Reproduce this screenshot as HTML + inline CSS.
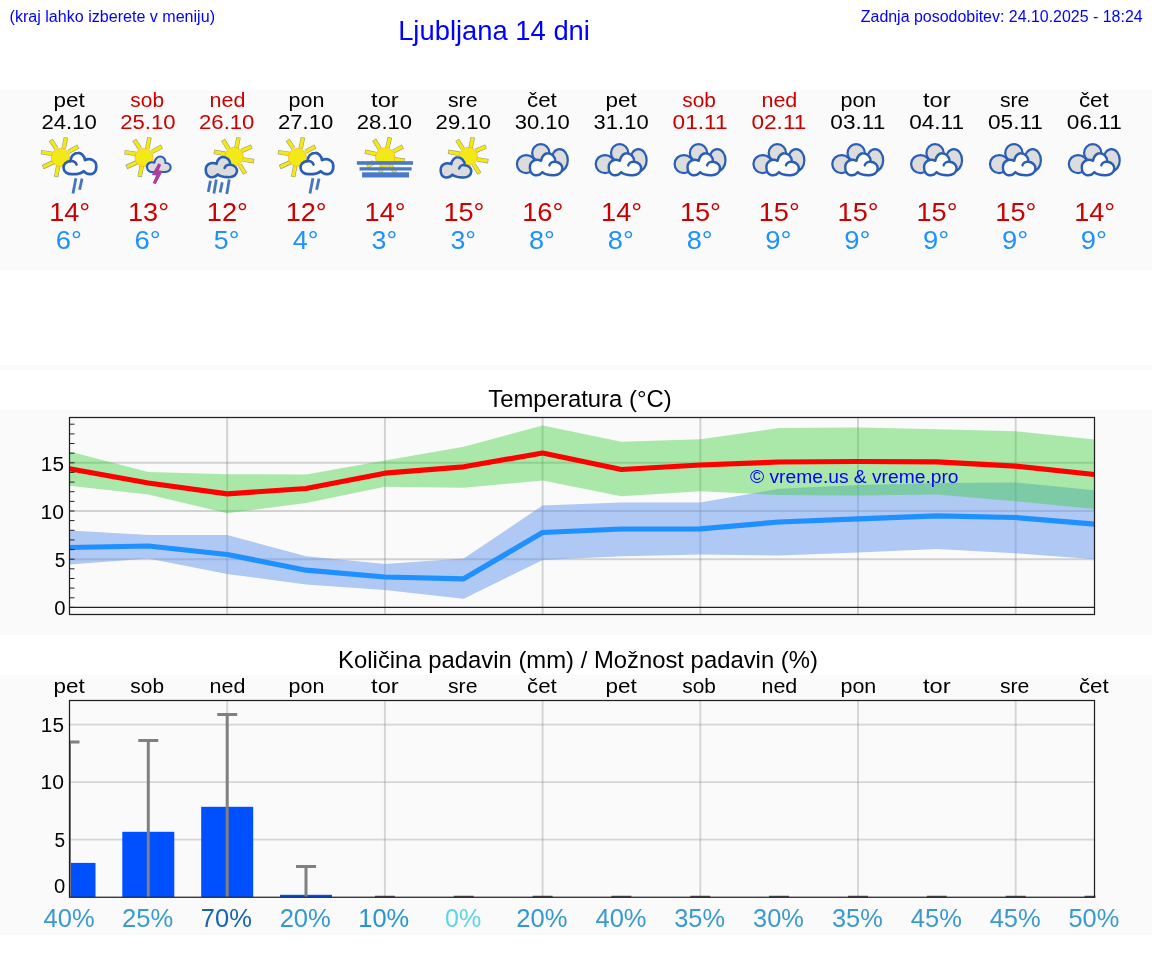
<!DOCTYPE html>
<html lang="sl"><head><meta charset="utf-8"><title>Ljubljana 14 dni</title>
<style>
html,body{margin:0;padding:0;background:#ffffff;}
body{width:1152px;height:975px;overflow:hidden;font-family:"Liberation Sans",sans-serif;}
svg{display:block;position:absolute;left:0;top:0;will-change:transform;}
svg text{font-family:"Liberation Sans",sans-serif;white-space:pre;}
</style></head><body>
<svg width="1152" height="975" viewBox="0 0 1152 975">
<rect x="0" y="90" width="1152" height="180" fill="#fafafa"/>
<rect x="0" y="365" width="1152" height="5" fill="#fafafa"/>
<rect x="0" y="410" width="1152" height="225" fill="#fafafa"/>
<rect x="0" y="675" width="1152" height="260" fill="#fafafa"/>
<text x="9.60" y="22.00" font-size="16.00" fill="#0000ff" textLength="205.39" lengthAdjust="spacingAndGlyphs">(kraj lahko izberete v meniju)</text>
<text x="398.15" y="39.60" font-size="27.40" fill="#0000ff" textLength="191.79" lengthAdjust="spacingAndGlyphs">Ljubljana 14 dni</text>
<text x="860.79" y="22.00" font-size="16.00" fill="#0000ff" textLength="281.87" lengthAdjust="spacingAndGlyphs">Zadnja posodobitev: 24.10.2025 - 18:24</text>
<text x="53.54" y="106.90" font-size="20.14" fill="#000000" textLength="31.24" lengthAdjust="spacingAndGlyphs">pet</text>
<text x="41.40" y="129.00" font-size="20.14" fill="#000000" textLength="55.35" lengthAdjust="spacingAndGlyphs">24.10</text>
<text x="49.18" y="221.30" font-size="26.29" fill="#cc0000" textLength="41.00" lengthAdjust="spacingAndGlyphs">14°</text>
<text x="55.75" y="248.60" font-size="26.29" fill="#1e90ff" textLength="26.15" lengthAdjust="spacingAndGlyphs">6°</text>
<text x="130.38" y="106.90" font-size="20.14" fill="#cc0000" textLength="33.64" lengthAdjust="spacingAndGlyphs">sob</text>
<text x="120.25" y="129.00" font-size="20.14" fill="#cc0000" textLength="55.35" lengthAdjust="spacingAndGlyphs">25.10</text>
<text x="128.03" y="221.30" font-size="26.29" fill="#cc0000" textLength="41.00" lengthAdjust="spacingAndGlyphs">13°</text>
<text x="134.60" y="248.60" font-size="26.29" fill="#1e90ff" textLength="26.15" lengthAdjust="spacingAndGlyphs">6°</text>
<text x="209.56" y="106.90" font-size="20.14" fill="#cc0000" textLength="35.83" lengthAdjust="spacingAndGlyphs">ned</text>
<text x="199.09" y="129.00" font-size="20.14" fill="#cc0000" textLength="55.35" lengthAdjust="spacingAndGlyphs">26.10</text>
<text x="206.88" y="221.30" font-size="26.29" fill="#cc0000" textLength="41.00" lengthAdjust="spacingAndGlyphs">12°</text>
<text x="213.85" y="248.60" font-size="26.29" fill="#1e90ff" textLength="25.62" lengthAdjust="spacingAndGlyphs">5°</text>
<text x="288.52" y="106.90" font-size="20.14" fill="#000000" textLength="35.85" lengthAdjust="spacingAndGlyphs">pon</text>
<text x="277.94" y="129.00" font-size="20.14" fill="#000000" textLength="55.35" lengthAdjust="spacingAndGlyphs">27.10</text>
<text x="285.72" y="221.30" font-size="26.29" fill="#cc0000" textLength="41.00" lengthAdjust="spacingAndGlyphs">12°</text>
<text x="292.81" y="248.60" font-size="26.29" fill="#1e90ff" textLength="25.86" lengthAdjust="spacingAndGlyphs">4°</text>
<text x="371.06" y="106.90" font-size="20.14" fill="#000000" textLength="27.68" lengthAdjust="spacingAndGlyphs">tor</text>
<text x="356.79" y="129.00" font-size="20.14" fill="#000000" textLength="55.35" lengthAdjust="spacingAndGlyphs">28.10</text>
<text x="364.57" y="221.30" font-size="26.29" fill="#cc0000" textLength="41.00" lengthAdjust="spacingAndGlyphs">14°</text>
<text x="371.58" y="248.60" font-size="26.29" fill="#1e90ff" textLength="25.59" lengthAdjust="spacingAndGlyphs">3°</text>
<text x="447.97" y="106.90" font-size="20.14" fill="#000000" textLength="29.47" lengthAdjust="spacingAndGlyphs">sre</text>
<text x="435.63" y="129.00" font-size="20.14" fill="#000000" textLength="55.35" lengthAdjust="spacingAndGlyphs">29.10</text>
<text x="443.41" y="221.30" font-size="26.29" fill="#cc0000" textLength="41.00" lengthAdjust="spacingAndGlyphs">15°</text>
<text x="450.43" y="248.60" font-size="26.29" fill="#1e90ff" textLength="25.59" lengthAdjust="spacingAndGlyphs">3°</text>
<text x="526.99" y="106.90" font-size="20.14" fill="#000000" textLength="29.79" lengthAdjust="spacingAndGlyphs">čet</text>
<text x="514.78" y="129.00" font-size="20.14" fill="#000000" textLength="55.01" lengthAdjust="spacingAndGlyphs">30.10</text>
<text x="522.26" y="221.30" font-size="26.29" fill="#cc0000" textLength="41.00" lengthAdjust="spacingAndGlyphs">16°</text>
<text x="529.02" y="248.60" font-size="26.29" fill="#1e90ff" textLength="25.97" lengthAdjust="spacingAndGlyphs">8°</text>
<text x="605.46" y="106.90" font-size="20.14" fill="#000000" textLength="31.24" lengthAdjust="spacingAndGlyphs">pet</text>
<text x="593.63" y="129.00" font-size="20.14" fill="#000000" textLength="55.01" lengthAdjust="spacingAndGlyphs">31.10</text>
<text x="601.11" y="221.30" font-size="26.29" fill="#cc0000" textLength="41.00" lengthAdjust="spacingAndGlyphs">14°</text>
<text x="607.86" y="248.60" font-size="26.29" fill="#1e90ff" textLength="25.97" lengthAdjust="spacingAndGlyphs">8°</text>
<text x="682.30" y="106.90" font-size="20.14" fill="#cc0000" textLength="33.64" lengthAdjust="spacingAndGlyphs">sob</text>
<text x="672.61" y="129.00" font-size="20.14" fill="#cc0000" textLength="54.94" lengthAdjust="spacingAndGlyphs">01.11</text>
<text x="679.95" y="221.30" font-size="26.29" fill="#cc0000" textLength="41.00" lengthAdjust="spacingAndGlyphs">15°</text>
<text x="686.71" y="248.60" font-size="26.29" fill="#1e90ff" textLength="25.97" lengthAdjust="spacingAndGlyphs">8°</text>
<text x="761.48" y="106.90" font-size="20.14" fill="#cc0000" textLength="35.83" lengthAdjust="spacingAndGlyphs">ned</text>
<text x="751.45" y="129.00" font-size="20.14" fill="#cc0000" textLength="54.94" lengthAdjust="spacingAndGlyphs">02.11</text>
<text x="758.80" y="221.30" font-size="26.29" fill="#cc0000" textLength="41.00" lengthAdjust="spacingAndGlyphs">15°</text>
<text x="765.39" y="248.60" font-size="26.29" fill="#1e90ff" textLength="26.21" lengthAdjust="spacingAndGlyphs">9°</text>
<text x="840.44" y="106.90" font-size="20.14" fill="#000000" textLength="35.85" lengthAdjust="spacingAndGlyphs">pon</text>
<text x="830.30" y="129.00" font-size="20.14" fill="#000000" textLength="54.94" lengthAdjust="spacingAndGlyphs">03.11</text>
<text x="837.64" y="221.30" font-size="26.29" fill="#cc0000" textLength="41.00" lengthAdjust="spacingAndGlyphs">15°</text>
<text x="844.24" y="248.60" font-size="26.29" fill="#1e90ff" textLength="26.21" lengthAdjust="spacingAndGlyphs">9°</text>
<text x="922.98" y="106.90" font-size="20.14" fill="#000000" textLength="27.68" lengthAdjust="spacingAndGlyphs">tor</text>
<text x="909.15" y="129.00" font-size="20.14" fill="#000000" textLength="54.94" lengthAdjust="spacingAndGlyphs">04.11</text>
<text x="916.49" y="221.30" font-size="26.29" fill="#cc0000" textLength="41.00" lengthAdjust="spacingAndGlyphs">15°</text>
<text x="923.08" y="248.60" font-size="26.29" fill="#1e90ff" textLength="26.21" lengthAdjust="spacingAndGlyphs">9°</text>
<text x="999.90" y="106.90" font-size="20.14" fill="#000000" textLength="29.47" lengthAdjust="spacingAndGlyphs">sre</text>
<text x="987.99" y="129.00" font-size="20.14" fill="#000000" textLength="54.94" lengthAdjust="spacingAndGlyphs">05.11</text>
<text x="995.34" y="221.30" font-size="26.29" fill="#cc0000" textLength="41.00" lengthAdjust="spacingAndGlyphs">15°</text>
<text x="1001.93" y="248.60" font-size="26.29" fill="#1e90ff" textLength="26.21" lengthAdjust="spacingAndGlyphs">9°</text>
<text x="1078.91" y="106.90" font-size="20.14" fill="#000000" textLength="29.79" lengthAdjust="spacingAndGlyphs">čet</text>
<text x="1066.84" y="129.00" font-size="20.14" fill="#000000" textLength="54.94" lengthAdjust="spacingAndGlyphs">06.11</text>
<text x="1074.18" y="221.30" font-size="26.29" fill="#cc0000" textLength="41.00" lengthAdjust="spacingAndGlyphs">14°</text>
<text x="1080.78" y="248.60" font-size="26.29" fill="#1e90ff" textLength="26.21" lengthAdjust="spacingAndGlyphs">9°</text>
<g transform="translate(36.00,132) scale(0.06974)"><line x1="292.8" y1="236.6" x2="210.6" y2="113.3" stroke="#a19c6e" stroke-width="64"/><line x1="397.3" y1="238.7" x2="429.6" y2="77.2" stroke="#a19c6e" stroke-width="64"/><line x1="465.7" y1="284.7" x2="607.0" y2="208.2" stroke="#a19c6e" stroke-width="64"/><line x1="235.8" y1="314.1" x2="72.1" y2="288.8" stroke="#a19c6e" stroke-width="64"/><line x1="250.7" y1="432.1" x2="97.7" y2="503.4" stroke="#a19c6e" stroke-width="64"/><line x1="320.7" y1="478.3" x2="288.5" y2="642.9" stroke="#a19c6e" stroke-width="64"/><line x1="292.8" y1="236.6" x2="215.0" y2="120.0" stroke="#f2e916" stroke-width="47"/><line x1="397.3" y1="238.7" x2="428.0" y2="85.0" stroke="#f2e916" stroke-width="47"/><line x1="465.7" y1="284.7" x2="600.0" y2="212.0" stroke="#f2e916" stroke-width="47"/><line x1="235.8" y1="314.1" x2="80.0" y2="290.0" stroke="#f2e916" stroke-width="47"/><line x1="250.7" y1="432.1" x2="105.0" y2="500.0" stroke="#f2e916" stroke-width="47"/><line x1="320.7" y1="478.3" x2="290.0" y2="635.0" stroke="#f2e916" stroke-width="47"/><circle cx="350" cy="365" r="130" fill="#f2e916" stroke="#f7a823" stroke-width="9"/><g transform="translate(258,-56) translate(372,508) scale(-1.07,1.06) translate(-372,-508)" stroke="#2a5db4" stroke-width="36" stroke-linejoin="round" stroke-linecap="round"><path d="M 153 548 C 150 470 230 425 305 462 C 310 400 360 362 395 363 C 450 363 500 410 498 475 C 560 480 595 525 592 565 C 590 620 540 655 470 652 C 410 652 350 640 322 612 C 290 650 240 655 215 650 C 180 640 153 600 153 548 Z" fill="#fdfdfd"/><path d="M 498 475 C 460 470 425 490 418 522" fill="none"/></g><line x1="572" y1="662" x2="530" y2="882" stroke="#4575c2" stroke-width="40"/><line x1="660" y1="668" x2="625" y2="828" stroke="#4575c2" stroke-width="40"/></g>
<g transform="translate(115.00,132) scale(0.06974)"><line x1="357.8" y1="236.6" x2="275.6" y2="113.3" stroke="#a19c6e" stroke-width="64"/><line x1="462.3" y1="238.7" x2="494.6" y2="77.2" stroke="#a19c6e" stroke-width="64"/><line x1="530.7" y1="284.7" x2="672.0" y2="208.2" stroke="#a19c6e" stroke-width="64"/><line x1="300.8" y1="314.1" x2="137.1" y2="288.8" stroke="#a19c6e" stroke-width="64"/><line x1="315.7" y1="432.1" x2="162.7" y2="503.4" stroke="#a19c6e" stroke-width="64"/><line x1="385.7" y1="478.3" x2="353.5" y2="642.9" stroke="#a19c6e" stroke-width="64"/><line x1="357.8" y1="236.6" x2="280.0" y2="120.0" stroke="#f2e916" stroke-width="47"/><line x1="462.3" y1="238.7" x2="493.0" y2="85.0" stroke="#f2e916" stroke-width="47"/><line x1="530.7" y1="284.7" x2="665.0" y2="212.0" stroke="#f2e916" stroke-width="47"/><line x1="300.8" y1="314.1" x2="145.0" y2="290.0" stroke="#f2e916" stroke-width="47"/><line x1="315.7" y1="432.1" x2="170.0" y2="500.0" stroke="#f2e916" stroke-width="47"/><line x1="385.7" y1="478.3" x2="355.0" y2="635.0" stroke="#f2e916" stroke-width="47"/><circle cx="415" cy="365" r="130" fill="#f2e916" stroke="#f7a823" stroke-width="9"/><path d="M 458 505 C 455 450 510 420 565 440 C 570 380 620 350 650 352 C 700 355 730 395 722 445 C 775 440 800 480 798 510 C 795 555 750 578 700 574 L 560 574 C 500 578 460 555 458 505 Z" fill="#dcdcdc" stroke="#2a5db4" stroke-width="30" stroke-linejoin="round"/><polygon points="622,448 662,470 628,548 685,558 582,748 542,730 588,622 528,612" fill="#aa3fa0"/></g>
<g transform="translate(194.00,132) scale(0.06974)"><line x1="492.4" y1="236.9" x2="415.8" y2="113.2" stroke="#a19c6e" stroke-width="64"/><line x1="607.2" y1="228.7" x2="638.6" y2="77.2" stroke="#a19c6e" stroke-width="64"/><line x1="682.1" y1="270.5" x2="827.4" y2="208.9" stroke="#a19c6e" stroke-width="64"/><line x1="701.2" y1="392.7" x2="860.9" y2="419.3" stroke="#a19c6e" stroke-width="64"/><line x1="652.5" y1="468.2" x2="734.3" y2="596.7" stroke="#a19c6e" stroke-width="64"/><line x1="448.8" y1="312.4" x2="285.1" y2="283.6" stroke="#a19c6e" stroke-width="64"/><line x1="492.4" y1="236.9" x2="420.0" y2="120.0" stroke="#f2e916" stroke-width="47"/><line x1="607.2" y1="228.7" x2="637.0" y2="85.0" stroke="#f2e916" stroke-width="47"/><line x1="682.1" y1="270.5" x2="820.0" y2="212.0" stroke="#f2e916" stroke-width="47"/><line x1="701.2" y1="392.7" x2="853.0" y2="418.0" stroke="#f2e916" stroke-width="47"/><line x1="652.5" y1="468.2" x2="730.0" y2="590.0" stroke="#f2e916" stroke-width="47"/><line x1="448.8" y1="312.4" x2="293.0" y2="285.0" stroke="#f2e916" stroke-width="47"/><circle cx="575" cy="350" r="132" fill="#f2e916" stroke="#f7a823" stroke-width="9"/><g transform="translate(20,-5) translate(372,508) scale(1.02,1.0) translate(-372,-508)" stroke="#2a5db4" stroke-width="36" stroke-linejoin="round" stroke-linecap="round"><path d="M 153 548 C 150 470 230 425 305 462 C 310 400 360 362 395 363 C 450 363 500 410 498 475 C 560 480 595 525 592 565 C 590 620 540 655 470 652 C 410 652 350 640 322 612 C 290 650 240 655 215 650 C 180 640 153 600 153 548 Z" fill="#dcdcdc"/><path d="M 498 475 C 460 470 425 490 418 522" fill="none"/></g><line x1="235" y1="700" x2="205" y2="862" stroke="#4575c2" stroke-width="40"/><line x1="320" y1="680" x2="285" y2="882" stroke="#4575c2" stroke-width="40"/><line x1="405" y1="720" x2="375" y2="868" stroke="#4575c2" stroke-width="40"/><line x1="505" y1="680" x2="470" y2="888" stroke="#4575c2" stroke-width="40"/></g>
<g transform="translate(273.00,132) scale(0.06974)"><line x1="292.8" y1="236.6" x2="210.6" y2="113.3" stroke="#a19c6e" stroke-width="64"/><line x1="397.3" y1="238.7" x2="429.6" y2="77.2" stroke="#a19c6e" stroke-width="64"/><line x1="465.7" y1="284.7" x2="607.0" y2="208.2" stroke="#a19c6e" stroke-width="64"/><line x1="235.8" y1="314.1" x2="72.1" y2="288.8" stroke="#a19c6e" stroke-width="64"/><line x1="250.7" y1="432.1" x2="97.7" y2="503.4" stroke="#a19c6e" stroke-width="64"/><line x1="320.7" y1="478.3" x2="288.5" y2="642.9" stroke="#a19c6e" stroke-width="64"/><line x1="292.8" y1="236.6" x2="215.0" y2="120.0" stroke="#f2e916" stroke-width="47"/><line x1="397.3" y1="238.7" x2="428.0" y2="85.0" stroke="#f2e916" stroke-width="47"/><line x1="465.7" y1="284.7" x2="600.0" y2="212.0" stroke="#f2e916" stroke-width="47"/><line x1="235.8" y1="314.1" x2="80.0" y2="290.0" stroke="#f2e916" stroke-width="47"/><line x1="250.7" y1="432.1" x2="105.0" y2="500.0" stroke="#f2e916" stroke-width="47"/><line x1="320.7" y1="478.3" x2="290.0" y2="635.0" stroke="#f2e916" stroke-width="47"/><circle cx="350" cy="365" r="130" fill="#f2e916" stroke="#f7a823" stroke-width="9"/><g transform="translate(258,-56) translate(372,508) scale(-1.07,1.06) translate(-372,-508)" stroke="#2a5db4" stroke-width="36" stroke-linejoin="round" stroke-linecap="round"><path d="M 153 548 C 150 470 230 425 305 462 C 310 400 360 362 395 363 C 450 363 500 410 498 475 C 560 480 595 525 592 565 C 590 620 540 655 470 652 C 410 652 350 640 322 612 C 290 650 240 655 215 650 C 180 640 153 600 153 548 Z" fill="#fdfdfd"/><path d="M 498 475 C 460 470 425 490 418 522" fill="none"/></g><line x1="572" y1="662" x2="530" y2="882" stroke="#4575c2" stroke-width="40"/><line x1="660" y1="668" x2="625" y2="828" stroke="#4575c2" stroke-width="40"/></g>
<g transform="translate(352.00,132) scale(0.06974)"><line x1="397.3" y1="242.0" x2="317.8" y2="111.2" stroke="#a19c6e" stroke-width="64"/><line x1="506.6" y1="225.6" x2="544.0" y2="77.2" stroke="#a19c6e" stroke-width="64"/><line x1="592.7" y1="281.6" x2="729.0" y2="208.2" stroke="#a19c6e" stroke-width="64"/><line x1="611.2" y1="390.9" x2="757.9" y2="413.2" stroke="#a19c6e" stroke-width="64"/><line x1="348.6" y1="318.1" x2="187.2" y2="281.2" stroke="#a19c6e" stroke-width="64"/><line x1="311.6" y1="432.2" x2="218.3" y2="494.4" stroke="#a19c6e" stroke-width="64"/><line x1="433.6" y1="486.5" x2="407.9" y2="582.7" stroke="#a19c6e" stroke-width="64"/><line x1="552.4" y1="478.2" x2="619.3" y2="581.7" stroke="#a19c6e" stroke-width="64"/><line x1="397.3" y1="242.0" x2="322.0" y2="118.0" stroke="#f2e916" stroke-width="47"/><line x1="506.6" y1="225.6" x2="542.0" y2="85.0" stroke="#f2e916" stroke-width="47"/><line x1="592.7" y1="281.6" x2="722.0" y2="212.0" stroke="#f2e916" stroke-width="47"/><line x1="611.2" y1="390.9" x2="750.0" y2="412.0" stroke="#f2e916" stroke-width="47"/><line x1="348.6" y1="318.1" x2="195.0" y2="283.0" stroke="#f2e916" stroke-width="47"/><line x1="311.6" y1="432.2" x2="225.0" y2="490.0" stroke="#f2e916" stroke-width="47"/><line x1="433.6" y1="486.5" x2="410.0" y2="575.0" stroke="#f2e916" stroke-width="47"/><line x1="552.4" y1="478.2" x2="615.0" y2="575.0" stroke="#f2e916" stroke-width="47"/><circle cx="475" cy="365" r="140" fill="#f2e916" stroke="#f7a823" stroke-width="9"/><rect x="70" y="418" width="805" height="52" fill="#4a7ac7"/><rect x="108" y="505" width="747" height="47" fill="#4a7ac7"/><rect x="145" y="578" width="673" height="74" fill="#4a7ac7"/></g>
<g transform="translate(430.00,132) scale(0.06974)"><line x1="467.4" y1="236.9" x2="390.8" y2="113.2" stroke="#a19c6e" stroke-width="64"/><line x1="582.2" y1="228.7" x2="613.6" y2="77.2" stroke="#a19c6e" stroke-width="64"/><line x1="657.1" y1="270.5" x2="802.4" y2="208.9" stroke="#a19c6e" stroke-width="64"/><line x1="676.2" y1="392.7" x2="835.9" y2="419.3" stroke="#a19c6e" stroke-width="64"/><line x1="627.5" y1="468.2" x2="709.3" y2="596.7" stroke="#a19c6e" stroke-width="64"/><line x1="423.8" y1="312.4" x2="260.1" y2="283.6" stroke="#a19c6e" stroke-width="64"/><line x1="467.4" y1="236.9" x2="395.0" y2="120.0" stroke="#f2e916" stroke-width="47"/><line x1="582.2" y1="228.7" x2="612.0" y2="85.0" stroke="#f2e916" stroke-width="47"/><line x1="657.1" y1="270.5" x2="795.0" y2="212.0" stroke="#f2e916" stroke-width="47"/><line x1="676.2" y1="392.7" x2="828.0" y2="418.0" stroke="#f2e916" stroke-width="47"/><line x1="627.5" y1="468.2" x2="705.0" y2="590.0" stroke="#f2e916" stroke-width="47"/><line x1="423.8" y1="312.4" x2="268.0" y2="285.0" stroke="#f2e916" stroke-width="47"/><circle cx="550" cy="350" r="132" fill="#f2e916" stroke="#f7a823" stroke-width="9"/><g transform="translate(0,0) translate(372,508) scale(1.0,1.0) translate(-372,-508)" stroke="#2a5db4" stroke-width="36" stroke-linejoin="round" stroke-linecap="round"><path d="M 153 548 C 150 470 230 425 305 462 C 310 400 360 362 395 363 C 450 363 500 410 498 475 C 560 480 595 525 592 565 C 590 620 540 655 470 652 C 410 652 350 640 322 612 C 290 650 240 655 215 650 C 180 640 153 600 153 548 Z" fill="#dcdcdc"/><path d="M 498 475 C 460 470 425 490 418 522" fill="none"/></g></g>
<g transform="translate(509.08,132) scale(0.06974)"><ellipse cx="246" cy="460" rx="134" ry="130" fill="#dcdcdc" stroke="#2a5db4" stroke-width="32"/><ellipse cx="455" cy="300" rx="124" ry="126" fill="#dcdcdc" stroke="#2a5db4" stroke-width="32"/><ellipse cx="724" cy="404" rx="118" ry="158" fill="#dcdcdc" stroke="#2a5db4" stroke-width="32"/><g transform="translate(158,-45) translate(372,508) scale(1.06,1.09) translate(-372,-508)" stroke="#2a5db4" stroke-width="33" stroke-linejoin="round" stroke-linecap="round"><path d="M 153 548 C 150 470 230 425 305 462 C 310 400 360 362 395 363 C 450 363 500 410 498 475 C 560 480 595 525 592 565 C 590 620 540 655 470 652 C 410 652 350 640 322 612 C 290 650 240 655 215 650 C 180 640 153 600 153 548 Z" fill="#fdfdfd"/><path d="M 498 475 C 460 470 425 490 418 522" fill="none"/></g></g>
<g transform="translate(587.92,132) scale(0.06974)"><ellipse cx="246" cy="460" rx="134" ry="130" fill="#dcdcdc" stroke="#2a5db4" stroke-width="32"/><ellipse cx="455" cy="300" rx="124" ry="126" fill="#dcdcdc" stroke="#2a5db4" stroke-width="32"/><ellipse cx="724" cy="404" rx="118" ry="158" fill="#dcdcdc" stroke="#2a5db4" stroke-width="32"/><g transform="translate(158,-45) translate(372,508) scale(1.06,1.09) translate(-372,-508)" stroke="#2a5db4" stroke-width="33" stroke-linejoin="round" stroke-linecap="round"><path d="M 153 548 C 150 470 230 425 305 462 C 310 400 360 362 395 363 C 450 363 500 410 498 475 C 560 480 595 525 592 565 C 590 620 540 655 470 652 C 410 652 350 640 322 612 C 290 650 240 655 215 650 C 180 640 153 600 153 548 Z" fill="#fdfdfd"/><path d="M 498 475 C 460 470 425 490 418 522" fill="none"/></g></g>
<g transform="translate(666.77,132) scale(0.06974)"><ellipse cx="246" cy="460" rx="134" ry="130" fill="#dcdcdc" stroke="#2a5db4" stroke-width="32"/><ellipse cx="455" cy="300" rx="124" ry="126" fill="#dcdcdc" stroke="#2a5db4" stroke-width="32"/><ellipse cx="724" cy="404" rx="118" ry="158" fill="#dcdcdc" stroke="#2a5db4" stroke-width="32"/><g transform="translate(158,-45) translate(372,508) scale(1.06,1.09) translate(-372,-508)" stroke="#2a5db4" stroke-width="33" stroke-linejoin="round" stroke-linecap="round"><path d="M 153 548 C 150 470 230 425 305 462 C 310 400 360 362 395 363 C 450 363 500 410 498 475 C 560 480 595 525 592 565 C 590 620 540 655 470 652 C 410 652 350 640 322 612 C 290 650 240 655 215 650 C 180 640 153 600 153 548 Z" fill="#fdfdfd"/><path d="M 498 475 C 460 470 425 490 418 522" fill="none"/></g></g>
<g transform="translate(745.62,132) scale(0.06974)"><ellipse cx="246" cy="460" rx="134" ry="130" fill="#dcdcdc" stroke="#2a5db4" stroke-width="32"/><ellipse cx="455" cy="300" rx="124" ry="126" fill="#dcdcdc" stroke="#2a5db4" stroke-width="32"/><ellipse cx="724" cy="404" rx="118" ry="158" fill="#dcdcdc" stroke="#2a5db4" stroke-width="32"/><g transform="translate(158,-45) translate(372,508) scale(1.06,1.09) translate(-372,-508)" stroke="#2a5db4" stroke-width="33" stroke-linejoin="round" stroke-linecap="round"><path d="M 153 548 C 150 470 230 425 305 462 C 310 400 360 362 395 363 C 450 363 500 410 498 475 C 560 480 595 525 592 565 C 590 620 540 655 470 652 C 410 652 350 640 322 612 C 290 650 240 655 215 650 C 180 640 153 600 153 548 Z" fill="#fdfdfd"/><path d="M 498 475 C 460 470 425 490 418 522" fill="none"/></g></g>
<g transform="translate(824.46,132) scale(0.06974)"><ellipse cx="246" cy="460" rx="134" ry="130" fill="#dcdcdc" stroke="#2a5db4" stroke-width="32"/><ellipse cx="455" cy="300" rx="124" ry="126" fill="#dcdcdc" stroke="#2a5db4" stroke-width="32"/><ellipse cx="724" cy="404" rx="118" ry="158" fill="#dcdcdc" stroke="#2a5db4" stroke-width="32"/><g transform="translate(158,-45) translate(372,508) scale(1.06,1.09) translate(-372,-508)" stroke="#2a5db4" stroke-width="33" stroke-linejoin="round" stroke-linecap="round"><path d="M 153 548 C 150 470 230 425 305 462 C 310 400 360 362 395 363 C 450 363 500 410 498 475 C 560 480 595 525 592 565 C 590 620 540 655 470 652 C 410 652 350 640 322 612 C 290 650 240 655 215 650 C 180 640 153 600 153 548 Z" fill="#fdfdfd"/><path d="M 498 475 C 460 470 425 490 418 522" fill="none"/></g></g>
<g transform="translate(903.31,132) scale(0.06974)"><ellipse cx="246" cy="460" rx="134" ry="130" fill="#dcdcdc" stroke="#2a5db4" stroke-width="32"/><ellipse cx="455" cy="300" rx="124" ry="126" fill="#dcdcdc" stroke="#2a5db4" stroke-width="32"/><ellipse cx="724" cy="404" rx="118" ry="158" fill="#dcdcdc" stroke="#2a5db4" stroke-width="32"/><g transform="translate(158,-45) translate(372,508) scale(1.06,1.09) translate(-372,-508)" stroke="#2a5db4" stroke-width="33" stroke-linejoin="round" stroke-linecap="round"><path d="M 153 548 C 150 470 230 425 305 462 C 310 400 360 362 395 363 C 450 363 500 410 498 475 C 560 480 595 525 592 565 C 590 620 540 655 470 652 C 410 652 350 640 322 612 C 290 650 240 655 215 650 C 180 640 153 600 153 548 Z" fill="#fdfdfd"/><path d="M 498 475 C 460 470 425 490 418 522" fill="none"/></g></g>
<g transform="translate(982.15,132) scale(0.06974)"><ellipse cx="246" cy="460" rx="134" ry="130" fill="#dcdcdc" stroke="#2a5db4" stroke-width="32"/><ellipse cx="455" cy="300" rx="124" ry="126" fill="#dcdcdc" stroke="#2a5db4" stroke-width="32"/><ellipse cx="724" cy="404" rx="118" ry="158" fill="#dcdcdc" stroke="#2a5db4" stroke-width="32"/><g transform="translate(158,-45) translate(372,508) scale(1.06,1.09) translate(-372,-508)" stroke="#2a5db4" stroke-width="33" stroke-linejoin="round" stroke-linecap="round"><path d="M 153 548 C 150 470 230 425 305 462 C 310 400 360 362 395 363 C 450 363 500 410 498 475 C 560 480 595 525 592 565 C 590 620 540 655 470 652 C 410 652 350 640 322 612 C 290 650 240 655 215 650 C 180 640 153 600 153 548 Z" fill="#fdfdfd"/><path d="M 498 475 C 460 470 425 490 418 522" fill="none"/></g></g>
<g transform="translate(1061.00,132) scale(0.06974)"><ellipse cx="246" cy="460" rx="134" ry="130" fill="#dcdcdc" stroke="#2a5db4" stroke-width="32"/><ellipse cx="455" cy="300" rx="124" ry="126" fill="#dcdcdc" stroke="#2a5db4" stroke-width="32"/><ellipse cx="724" cy="404" rx="118" ry="158" fill="#dcdcdc" stroke="#2a5db4" stroke-width="32"/><g transform="translate(158,-45) translate(372,508) scale(1.06,1.09) translate(-372,-508)" stroke="#2a5db4" stroke-width="33" stroke-linejoin="round" stroke-linecap="round"><path d="M 153 548 C 150 470 230 425 305 462 C 310 400 360 362 395 363 C 450 363 500 410 498 475 C 560 480 595 525 592 565 C 590 620 540 655 470 652 C 410 652 350 640 322 612 C 290 650 240 655 215 650 C 180 640 153 600 153 548 Z" fill="#fdfdfd"/><path d="M 498 475 C 460 470 425 490 418 522" fill="none"/></g></g>
<clipPath id="c1"><rect x="69.5" y="417.5" width="1025.0" height="197.0"/></clipPath>
<g clip-path="url(#c1)">
<line x1="69.5" x2="1094.5" y1="462.8" y2="462.8" stroke="rgba(128,128,128,0.33)" stroke-width="1.9"/>
<line x1="69.5" x2="1094.5" y1="511.0" y2="511.0" stroke="rgba(128,128,128,0.33)" stroke-width="1.9"/>
<line x1="69.5" x2="1094.5" y1="559.2" y2="559.2" stroke="rgba(128,128,128,0.33)" stroke-width="1.9"/>
<line x1="227.2" x2="227.2" y1="417.5" y2="614.5" stroke="rgba(128,128,128,0.33)" stroke-width="1.9"/>
<line x1="384.9" x2="384.9" y1="417.5" y2="614.5" stroke="rgba(128,128,128,0.33)" stroke-width="1.9"/>
<line x1="542.6" x2="542.6" y1="417.5" y2="614.5" stroke="rgba(128,128,128,0.33)" stroke-width="1.9"/>
<line x1="700.3" x2="700.3" y1="417.5" y2="614.5" stroke="rgba(128,128,128,0.33)" stroke-width="1.9"/>
<line x1="858.0" x2="858.0" y1="417.5" y2="614.5" stroke="rgba(128,128,128,0.33)" stroke-width="1.9"/>
<line x1="1015.7" x2="1015.7" y1="417.5" y2="614.5" stroke="rgba(128,128,128,0.33)" stroke-width="1.9"/>
<polygon points="69.5,530.5 148.3,535.0 227.2,535.0 306.0,556.2 384.9,564.0 463.7,558.5 542.6,505.5 621.4,502.5 700.3,502.5 779.1,488.8 858.0,485.0 936.8,483.0 1015.7,482.5 1094.5,490.2 1094.5,559.2 1015.7,553.2 936.8,549.0 858.0,552.5 779.1,555.5 700.3,554.5 621.4,556.2 542.6,560.0 463.7,598.8 384.9,590.0 306.0,584.5 227.2,574.0 148.3,558.5 69.5,564.5" fill="rgb(100,149,237)" fill-opacity="0.5"/>
<polygon points="69.5,451.5 148.3,472.0 227.2,474.2 306.0,474.5 384.9,460.5 463.7,446.8 542.6,425.5 621.4,441.8 700.3,439.2 779.1,428.0 858.0,427.5 936.8,429.2 1015.7,431.2 1094.5,439.4 1094.5,508.9 1015.7,501.2 936.8,494.5 858.0,495.5 779.1,495.0 700.3,491.2 621.4,496.2 542.6,480.5 463.7,487.8 384.9,486.8 306.0,503.0 227.2,513.2 148.3,494.5 69.5,485.8" fill="rgb(50,205,50)" fill-opacity="0.4"/>
<line x1="69.5" x2="1094.5" y1="607.4" y2="607.4" stroke="#222" stroke-width="1.3"/>
<polyline points="69.5,547.5 148.3,546.0 227.2,554.5 306.0,570.2 384.9,577.0 463.7,578.8 542.6,532.5 621.4,529.0 700.3,528.8 779.1,522.0 858.0,518.8 936.8,515.8 1015.7,517.5 1094.5,524.2" fill="none" stroke="#1e90ff" stroke-width="5.2" stroke-linejoin="round"/>
<polyline points="69.5,468.8 148.3,483.0 227.2,493.8 306.0,488.5 384.9,473.2 463.7,466.8 542.6,453.0 621.4,469.5 700.3,465.0 779.1,462.0 858.0,461.5 936.8,461.8 1015.7,466.2 1094.5,474.5" fill="none" stroke="#ff0000" stroke-width="5.2" stroke-linejoin="round"/>
</g>
<line x1="69.5" x2="74.5" y1="607.4" y2="607.4" stroke="#222" stroke-width="1"/>
<line x1="69.5" x2="74.5" y1="597.8" y2="597.8" stroke="#222" stroke-width="1"/>
<line x1="69.5" x2="74.5" y1="588.1" y2="588.1" stroke="#222" stroke-width="1"/>
<line x1="69.5" x2="74.5" y1="578.5" y2="578.5" stroke="#222" stroke-width="1"/>
<line x1="69.5" x2="74.5" y1="568.8" y2="568.8" stroke="#222" stroke-width="1"/>
<line x1="69.5" x2="74.5" y1="559.2" y2="559.2" stroke="#222" stroke-width="1"/>
<line x1="69.5" x2="74.5" y1="549.6" y2="549.6" stroke="#222" stroke-width="1"/>
<line x1="69.5" x2="74.5" y1="539.9" y2="539.9" stroke="#222" stroke-width="1"/>
<line x1="69.5" x2="74.5" y1="530.3" y2="530.3" stroke="#222" stroke-width="1"/>
<line x1="69.5" x2="74.5" y1="520.6" y2="520.6" stroke="#222" stroke-width="1"/>
<line x1="69.5" x2="74.5" y1="511.0" y2="511.0" stroke="#222" stroke-width="1"/>
<line x1="69.5" x2="74.5" y1="501.4" y2="501.4" stroke="#222" stroke-width="1"/>
<line x1="69.5" x2="74.5" y1="491.7" y2="491.7" stroke="#222" stroke-width="1"/>
<line x1="69.5" x2="74.5" y1="482.1" y2="482.1" stroke="#222" stroke-width="1"/>
<line x1="69.5" x2="74.5" y1="472.4" y2="472.4" stroke="#222" stroke-width="1"/>
<line x1="69.5" x2="74.5" y1="462.8" y2="462.8" stroke="#222" stroke-width="1"/>
<line x1="69.5" x2="74.5" y1="453.2" y2="453.2" stroke="#222" stroke-width="1"/>
<line x1="69.5" x2="74.5" y1="443.5" y2="443.5" stroke="#222" stroke-width="1"/>
<line x1="69.5" x2="74.5" y1="433.9" y2="433.9" stroke="#222" stroke-width="1"/>
<line x1="69.5" x2="74.5" y1="424.2" y2="424.2" stroke="#222" stroke-width="1"/>
<rect x="69.5" y="417.5" width="1025.0" height="197.0" fill="none" stroke="#202020" stroke-width="1.25"/>
<text x="40.87" y="470.70" font-size="20.46" fill="#000" textLength="23.10" lengthAdjust="spacingAndGlyphs">15</text>
<text x="40.45" y="518.90" font-size="20.46" fill="#000" textLength="23.48" lengthAdjust="spacingAndGlyphs">10</text>
<text x="54.78" y="567.10" font-size="20.46" fill="#000" textLength="10.62" lengthAdjust="spacingAndGlyphs">5</text>
<text x="54.13" y="615.30" font-size="20.46" fill="#000" textLength="11.26" lengthAdjust="spacingAndGlyphs">0</text>
<text x="488.27" y="407.40" font-size="23.70" fill="#000" textLength="183.39" lengthAdjust="spacingAndGlyphs">Temperatura (°C)</text>
<text x="750.01" y="483.40" font-size="18.90" fill="#0000ff" textLength="208.50" lengthAdjust="spacingAndGlyphs">© vreme.us &amp; vreme.pro</text>
<clipPath id="c2"><rect x="69.5" y="698.5" width="1026.0" height="199.8"/></clipPath>
<g clip-path="url(#c2)">
<line x1="69.5" x2="1094.5" y1="839.6" y2="839.6" stroke="rgba(128,128,128,0.30)" stroke-width="1.9"/>
<line x1="69.5" x2="1094.5" y1="782.1" y2="782.1" stroke="rgba(128,128,128,0.30)" stroke-width="1.9"/>
<line x1="69.5" x2="1094.5" y1="724.6" y2="724.6" stroke="rgba(128,128,128,0.30)" stroke-width="1.9"/>
<line x1="227.2" x2="227.2" y1="700.5" y2="897.25" stroke="rgba(128,128,128,0.30)" stroke-width="1.9"/>
<line x1="384.9" x2="384.9" y1="700.5" y2="897.25" stroke="rgba(128,128,128,0.30)" stroke-width="1.9"/>
<line x1="542.6" x2="542.6" y1="700.5" y2="897.25" stroke="rgba(128,128,128,0.30)" stroke-width="1.9"/>
<line x1="700.3" x2="700.3" y1="700.5" y2="897.25" stroke="rgba(128,128,128,0.30)" stroke-width="1.9"/>
<line x1="858.0" x2="858.0" y1="700.5" y2="897.25" stroke="rgba(128,128,128,0.30)" stroke-width="1.9"/>
<line x1="1015.7" x2="1015.7" y1="700.5" y2="897.25" stroke="rgba(128,128,128,0.30)" stroke-width="1.9"/>
<rect x="43.5" y="862.9" width="52" height="34.2" fill="#0050ff"/>
<rect x="122.3" y="831.8" width="52" height="65.3" fill="#0050ff"/>
<rect x="201.2" y="806.8" width="52" height="90.3" fill="#0050ff"/>
<rect x="280.0" y="894.8" width="52" height="2.3" fill="#0050ff"/>
<line x1="69.5" x2="69.5" y1="741.9" y2="897.1" stroke="#808080" stroke-width="3"/>
<line x1="59.5" x2="79.5" y1="741.9" y2="741.9" stroke="#808080" stroke-width="3"/>
<line x1="148.3" x2="148.3" y1="740.4" y2="897.1" stroke="#808080" stroke-width="3"/>
<line x1="138.3" x2="158.3" y1="740.4" y2="740.4" stroke="#808080" stroke-width="3"/>
<line x1="227.2" x2="227.2" y1="714.4" y2="897.1" stroke="#808080" stroke-width="3"/>
<line x1="217.2" x2="237.2" y1="714.4" y2="714.4" stroke="#808080" stroke-width="3"/>
<line x1="306.0" x2="306.0" y1="866.4" y2="897.1" stroke="#808080" stroke-width="3"/>
<line x1="296.0" x2="316.0" y1="866.4" y2="866.4" stroke="#808080" stroke-width="3"/>
<line x1="374.9" x2="394.9" y1="896.6" y2="896.6" stroke="#555" stroke-width="1.6"/>
<line x1="453.7" x2="473.7" y1="896.6" y2="896.6" stroke="#555" stroke-width="1.6"/>
<line x1="532.6" x2="552.6" y1="896.6" y2="896.6" stroke="#555" stroke-width="1.6"/>
<line x1="611.4" x2="631.4" y1="896.6" y2="896.6" stroke="#555" stroke-width="1.6"/>
<line x1="690.3" x2="710.3" y1="896.6" y2="896.6" stroke="#555" stroke-width="1.6"/>
<line x1="769.1" x2="789.1" y1="896.6" y2="896.6" stroke="#555" stroke-width="1.6"/>
<line x1="848.0" x2="868.0" y1="896.6" y2="896.6" stroke="#555" stroke-width="1.6"/>
<line x1="926.8" x2="946.8" y1="896.6" y2="896.6" stroke="#555" stroke-width="1.6"/>
<line x1="1005.7" x2="1025.7" y1="896.6" y2="896.6" stroke="#555" stroke-width="1.6"/>
<line x1="1084.5" x2="1104.5" y1="896.6" y2="896.6" stroke="#555" stroke-width="1.6"/>
</g>
<rect x="69.5" y="700.5" width="1025.0" height="196.75" fill="none" stroke="#202020" stroke-width="1.25"/>
<text x="40.87" y="731.50" font-size="20.46" fill="#000" textLength="23.10" lengthAdjust="spacingAndGlyphs">15</text>
<text x="40.45" y="789.00" font-size="20.46" fill="#000" textLength="23.48" lengthAdjust="spacingAndGlyphs">10</text>
<text x="54.58" y="846.50" font-size="20.46" fill="#000" textLength="10.62" lengthAdjust="spacingAndGlyphs">5</text>
<text x="53.93" y="892.60" font-size="20.46" fill="#000" textLength="11.26" lengthAdjust="spacingAndGlyphs">0</text>
<text x="53.54" y="693.30" font-size="20.14" fill="#000" textLength="31.24" lengthAdjust="spacingAndGlyphs">pet</text>
<text x="130.38" y="693.30" font-size="20.14" fill="#000" textLength="33.64" lengthAdjust="spacingAndGlyphs">sob</text>
<text x="209.56" y="693.30" font-size="20.14" fill="#000" textLength="35.83" lengthAdjust="spacingAndGlyphs">ned</text>
<text x="288.52" y="693.30" font-size="20.14" fill="#000" textLength="35.85" lengthAdjust="spacingAndGlyphs">pon</text>
<text x="371.06" y="693.30" font-size="20.14" fill="#000" textLength="27.68" lengthAdjust="spacingAndGlyphs">tor</text>
<text x="447.97" y="693.30" font-size="20.14" fill="#000" textLength="29.47" lengthAdjust="spacingAndGlyphs">sre</text>
<text x="526.99" y="693.30" font-size="20.14" fill="#000" textLength="29.79" lengthAdjust="spacingAndGlyphs">čet</text>
<text x="605.46" y="693.30" font-size="20.14" fill="#000" textLength="31.24" lengthAdjust="spacingAndGlyphs">pet</text>
<text x="682.30" y="693.30" font-size="20.14" fill="#000" textLength="33.64" lengthAdjust="spacingAndGlyphs">sob</text>
<text x="761.48" y="693.30" font-size="20.14" fill="#000" textLength="35.83" lengthAdjust="spacingAndGlyphs">ned</text>
<text x="840.44" y="693.30" font-size="20.14" fill="#000" textLength="35.85" lengthAdjust="spacingAndGlyphs">pon</text>
<text x="922.98" y="693.30" font-size="20.14" fill="#000" textLength="27.68" lengthAdjust="spacingAndGlyphs">tor</text>
<text x="999.90" y="693.30" font-size="20.14" fill="#000" textLength="29.47" lengthAdjust="spacingAndGlyphs">sre</text>
<text x="1078.91" y="693.30" font-size="20.14" fill="#000" textLength="29.79" lengthAdjust="spacingAndGlyphs">čet</text>
<text x="43.53" y="926.50" font-size="25.33" fill="#3a9ad0" textLength="51.07" lengthAdjust="spacingAndGlyphs">40%</text>
<text x="121.96" y="926.50" font-size="25.33" fill="#3a9bd0" textLength="51.20" lengthAdjust="spacingAndGlyphs">25%</text>
<text x="200.89" y="926.50" font-size="25.33" fill="#1763b4" textLength="51.01" lengthAdjust="spacingAndGlyphs">70%</text>
<text x="279.65" y="926.50" font-size="25.33" fill="#3399d1" textLength="51.20" lengthAdjust="spacingAndGlyphs">20%</text>
<text x="358.27" y="926.50" font-size="25.33" fill="#2696d2" textLength="51.00" lengthAdjust="spacingAndGlyphs">10%</text>
<text x="445.01" y="926.50" font-size="25.33" fill="#5cd6e4" textLength="36.16" lengthAdjust="spacingAndGlyphs">0%</text>
<text x="516.19" y="926.50" font-size="25.33" fill="#3399d1" textLength="51.20" lengthAdjust="spacingAndGlyphs">20%</text>
<text x="595.45" y="926.50" font-size="25.33" fill="#3a9ad0" textLength="51.07" lengthAdjust="spacingAndGlyphs">40%</text>
<text x="674.23" y="926.50" font-size="25.33" fill="#3a9ad0" textLength="50.81" lengthAdjust="spacingAndGlyphs">35%</text>
<text x="753.08" y="926.50" font-size="25.33" fill="#3a9ad0" textLength="50.81" lengthAdjust="spacingAndGlyphs">30%</text>
<text x="831.93" y="926.50" font-size="25.33" fill="#3a9ad0" textLength="50.81" lengthAdjust="spacingAndGlyphs">35%</text>
<text x="910.83" y="926.50" font-size="25.33" fill="#3a9ad0" textLength="51.07" lengthAdjust="spacingAndGlyphs">45%</text>
<text x="989.68" y="926.50" font-size="25.33" fill="#3a9ad0" textLength="51.07" lengthAdjust="spacingAndGlyphs">45%</text>
<text x="1068.43" y="926.50" font-size="25.33" fill="#3a9ad0" textLength="50.84" lengthAdjust="spacingAndGlyphs">50%</text>
<text x="338.14" y="667.90" font-size="23.70" fill="#000" textLength="479.73" lengthAdjust="spacingAndGlyphs">Količina padavin (mm) / Možnost padavin (%)</text>
</svg>
</body></html>
